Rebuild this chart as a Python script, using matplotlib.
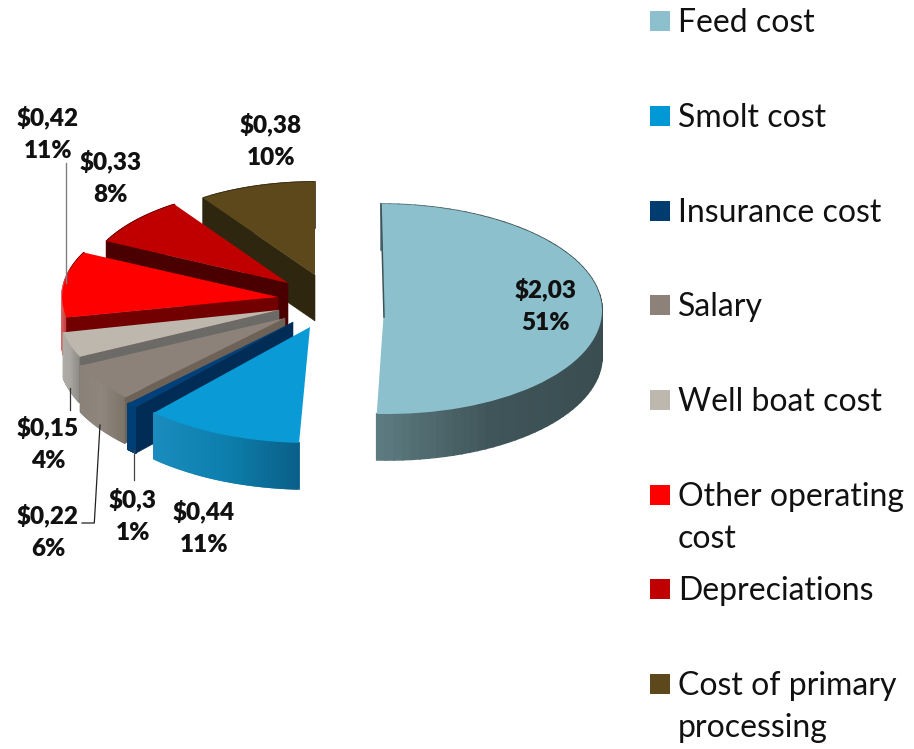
import numpy as np
import matplotlib
matplotlib.use("Agg")
import matplotlib.pyplot as plt
from matplotlib.patches import Rectangle
from matplotlib.transforms import Affine2D
from matplotlib.colors import to_rgb

categories = ["Feed cost", "Smolt cost", "Insurance cost", "Salary", "Well boat cost",
              "Other operating\ncost", "Depreciations", "Cost of primary\nprocessing"]
values = [2.03, 0.44, 0.03, 0.22, 0.15, 0.42, 0.33, 0.38]
value_labels = ["$2,03", "$0,44", "$0,3", "$0,22", "$0,15", "$0,42", "$0,33", "$0,38"]
percent_labels = ["51%", "11%", "1%", "6%", "4%", "11%", "8%", "10%"]

top_colors = ["#8cc0cc", "#0a9ad6", "#00407a", "#8c8279", "#bdb7ae", "#ff0000", "#c00000", "#5c481a"]
legend_colors = ["#8cc0cc", "#0099d5", "#003c70", "#8c8279", "#bdb7ae", "#ff0000", "#c00000", "#5c481a"]
wall_colors = [None, None, "#002c56", "#6e6257", "#6b6a66", "#720000", "#4a0000", "#2f2610"]
side_stops = [["#5d7d82", "#405559", "#3a4e52"], ["#1a8cbd", "#0d7fae", "#0a6088"],
              ["#003f75", "#003f75", "#003f75"], ["#8a8279", "#8f867d", "#7c7369"],
              ["#b0aca6", "#a9a6a1", "#8f8d88"], ["#e06a6a", "#9a0000", "#720000"],
              ["#700000", "#700000", "#700000"], ["#3a2e12", "#3a2e12", "#3a2e12"]]

# per-slice placement of the exploded, perspective pie (pixels)
centers = [(384, 309), (310, 327), (293, 322), (285, 318), (279, 310), (278, 297), (288, 283), (315, 275)]
radii = [(218, 105), (232, 116), (233, 115), (226, 112), (220, 110), (216, 101), (202, 95), (199, 93)]
shears = [-3, 0, 0, 0, 0, 0, 0, 0]
depth = 46

label_pos = [(546, 289), (204, 511), (133, 499), (48, 515), (48, 427), (48, 117), (111, 161), (271, 124)]
legend_y = [21, 116, 211, 305, 400, 495, 589, 684]

fig = plt.figure(figsize=(9.14, 7.49), dpi=100)
ax = fig.add_axes([0, 0, 1, 1])
wedges, _ = ax.pie(values, startangle=90, counterclock=False, colors=top_colors, radius=1,
                   wedgeprops=dict(linewidth=0))
ax.set_aspect("auto")
ax.set_xlim(0, 914)
ax.set_ylim(749, 0)
ax.axis("off")


def project(i, deg):
    t = np.radians(deg)
    cx, cy = centers[i]
    rx, ry = radii[i]
    return cx + rx * np.cos(t) + shears[i] * np.sin(t), cy - ry * np.sin(t)


draw_rank = [7, 6, 5, 4, 3, 2, 1, 0]
for i, w in enumerate(wedges):
    z = 2 + draw_rank[i]
    cx, cy = centers[i]
    rx, ry = radii[i]
    m = Affine2D(np.array([[rx, shears[i], cx], [0, -ry, cy], [0, 0, 1]], dtype=float))
    w.set_transform(m + ax.transData)
    w.set_zorder(z + 0.6)
    # outer rim
    angles = np.linspace(w.theta1, w.theta2, 81)
    xs, ys = project(i, angles)
    span = max(xs.max() - xs.min(), 1)
    stops = [np.array(to_rgb(c)) for c in side_stops[i]]
    for k in range(80):
        f = (0.5 * (xs[k] + xs[k + 1]) - xs.min()) / span
        col = stops[0] + (stops[1] - stops[0]) * f / 0.5 if f < 0.5 else stops[1] + (stops[2] - stops[1]) * (f - 0.5) / 0.5
        ax.fill([xs[k], xs[k + 1], xs[k + 1], xs[k]],
                [ys[k], ys[k + 1], ys[k + 1] + depth, ys[k] + depth],
                color=tuple(col), lw=1.2, zorder=z + 0.2)
    # radial wall
    if wall_colors[i]:
        ex, ey = project(i, w.theta2)
        ax.fill([cx, ex, ex, cx], [cy, ey, ey + depth, cy + depth],
                color=wall_colors[i], lw=0.4, zorder=z + 0.3)

# thin visible wall of the feed slice
tx, ty = project(0, wedges[0].theta2)
ax.plot([tx, centers[0][0]], [ty, centers[0][1] + 8], color="#3d5358", lw=1.1, zorder=9.7)

# leader lines
ax.plot([66, 66], [163, 283], color="#808080", lw=1.0, zorder=10)
ax.plot([70, 70], [388, 410], color="#333333", lw=0.9, zorder=10)
ax.plot([134, 134], [450, 480], color="#444444", lw=0.9, zorder=10)
ax.plot([100, 94.3, 82], [425, 523, 523], color="#222222", lw=0.9, zorder=10)

# data labels
for (x, y), v, p in zip(label_pos, value_labels, percent_labels):
    ax.text(x, y, v, ha="center", va="center", family="Lato", weight="heavy", fontsize=17.5,
            color="#111111", zorder=12)
    ax.text(x, y + 34, p, ha="center", va="center", family="Lato", weight="heavy", fontsize=17.5,
            color="#111111", zorder=12)

# legend
for y, name, c in zip(legend_y, categories, legend_colors):
    ax.add_patch(Rectangle((650, y - 10), 20, 20, facecolor=c, edgecolor="none", zorder=12))
    ax.text(678, y - 13, name, ha="left", va="top", family="Lato", fontsize=23,
            color="#111111", linespacing=1.48, zorder=12)

fig.savefig("out.png", dpi=100)
